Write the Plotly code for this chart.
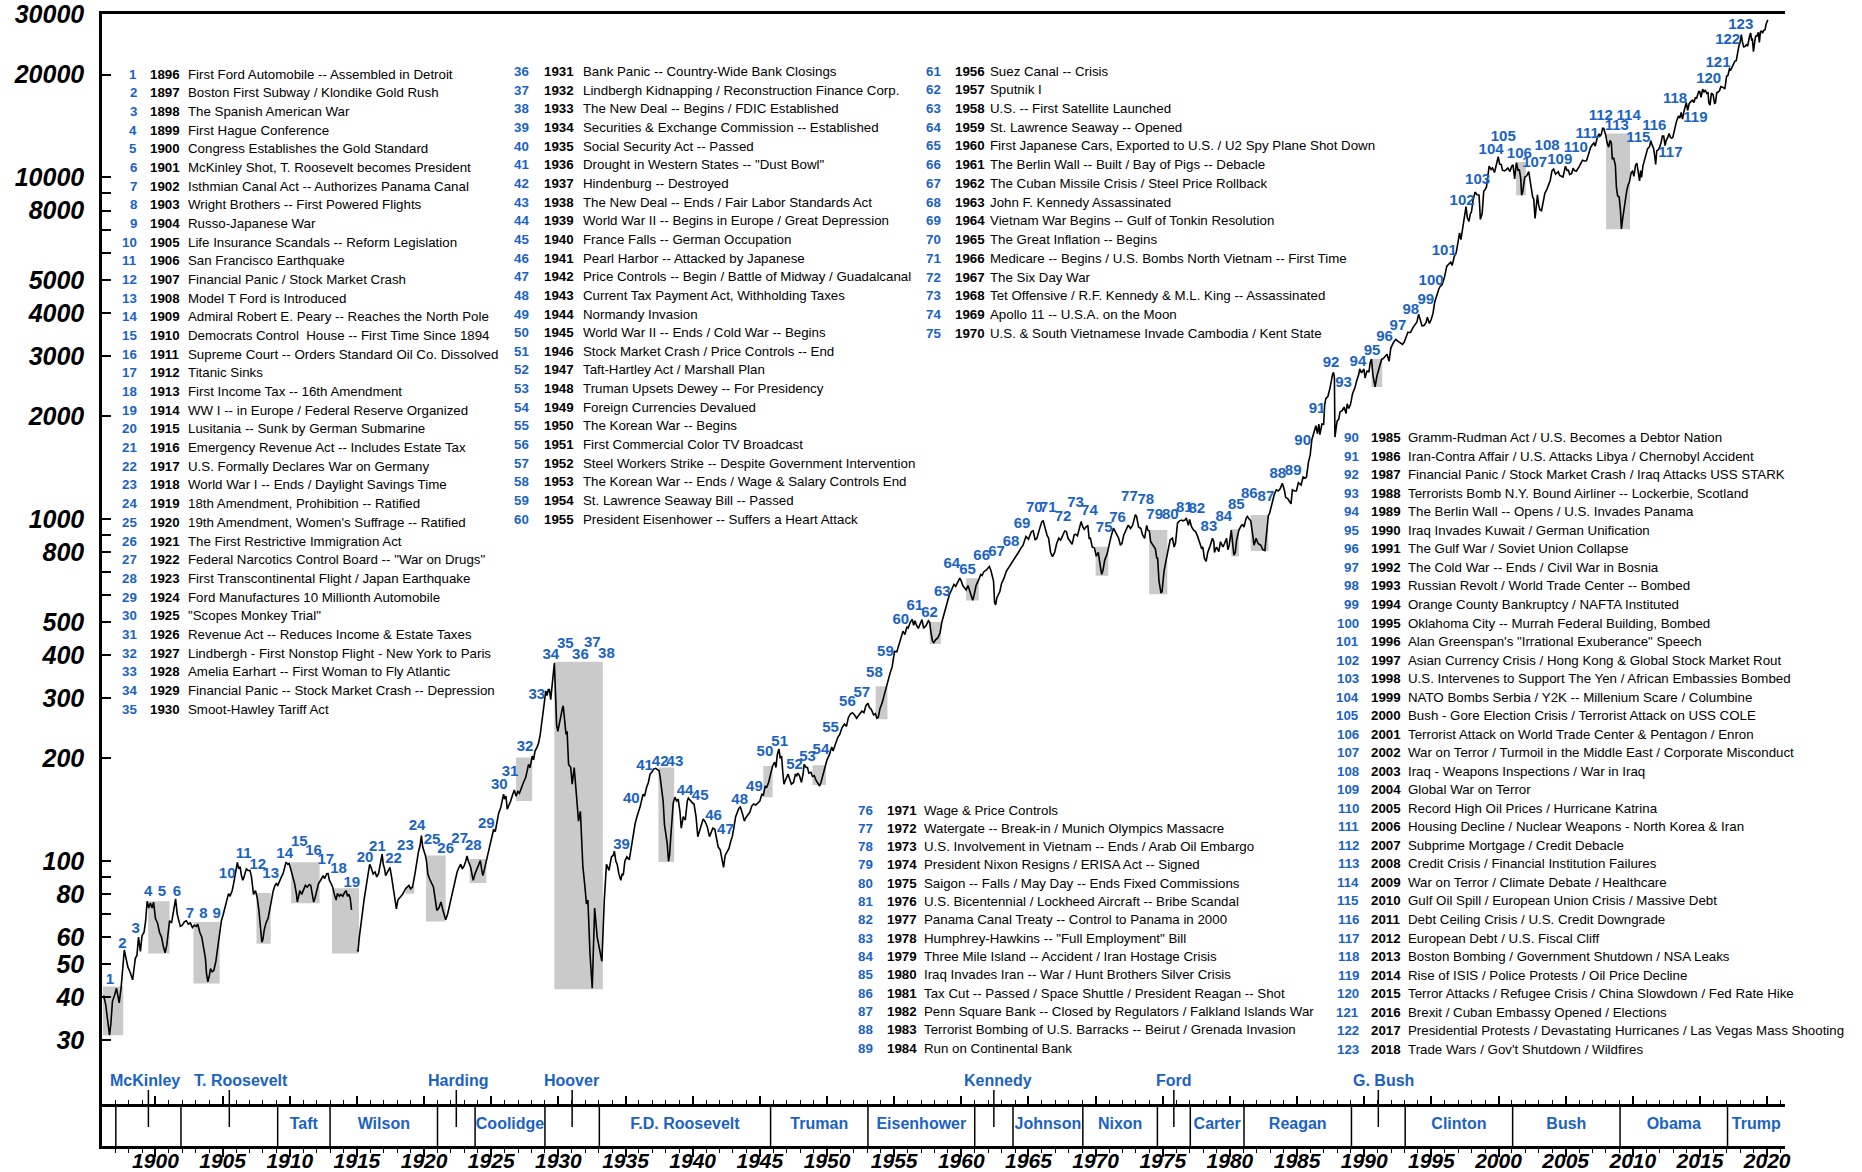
import plotly.graph_objects as go

# ------------------------------------------------------------------
# DATA
# Dow Jones Industrial Average, (decimal year, index level)
# ------------------------------------------------------------------
djia_1896_1914 = [
    (1896.14, 40.5), (1896.30, 38.0), (1896.45, 34.0), (1896.58, 31.0), (1896.68, 33.5), (1896.80, 39.0), (1896.95, 40.5),
    (1897.10, 42.5), (1897.30, 38.5), (1897.45, 43.0), (1897.68, 55.0), (1897.82, 51.0), (1897.95, 49.0),
    (1898.10, 47.5), (1898.30, 45.0), (1898.50, 52.0), (1898.62, 53.0), (1898.74, 60.0), (1898.88, 54.5),
    (1899.00, 60.5), (1899.15, 62.0), (1899.27, 67.0), (1899.38, 76.4), (1899.50, 73.0), (1899.62, 75.5), (1899.75, 73.0), (1899.86, 75.9),
    (1900.00, 68.0), (1900.15, 66.0), (1900.30, 62.0), (1900.45, 60.0), (1900.60, 56.0), (1900.72, 54.0), (1900.85, 57.0), (1900.95, 63.0),
    (1901.05, 67.0), (1901.20, 66.0), (1901.35, 72.0), (1901.50, 77.6), (1901.62, 70.0), (1901.72, 67.0), (1901.85, 64.5),
    (1902.00, 65.0), (1902.15, 66.5), (1902.30, 67.0), (1902.45, 65.5), (1902.60, 66.0), (1902.75, 64.0), (1902.90, 65.0),
    (1903.05, 64.5), (1903.15, 65.5), (1903.30, 62.0), (1903.45, 60.0), (1903.60, 56.0), (1903.72, 52.0), (1903.80, 47.0), (1903.90, 44.4),
    (1904.00, 46.0), (1904.10, 48.5), (1904.22, 47.5), (1904.35, 48.0), (1904.50, 51.0), (1904.64, 56.0), (1904.80, 62.0), (1904.91, 67.0),
    (1905.05, 70.0), (1905.23, 75.0), (1905.35, 78.0), (1905.44, 80.4), (1905.55, 79.0), (1905.71, 82.0), (1905.82, 86.0), (1905.92, 89.8),
    (1906.03, 95.0), (1906.10, 99.3), (1906.20, 95.0), (1906.30, 96.5), (1906.40, 91.0), (1906.50, 88.0), (1906.56, 89.0), (1906.68, 93.0), (1906.77, 95.0), (1906.90, 94.0),
    (1907.04, 94.0), (1907.15, 90.0), (1907.30, 80.0), (1907.45, 82.0), (1907.57, 78.5), (1907.70, 72.0), (1907.83, 62.0), (1907.92, 58.0),
    (1908.00, 59.0), (1908.10, 63.0), (1908.23, 66.0), (1908.38, 68.0), (1908.50, 71.8), (1908.65, 78.0), (1908.77, 82.0), (1908.90, 85.0),
    (1909.00, 86.0), (1909.11, 85.0), (1909.25, 88.0), (1909.38, 90.0), (1909.50, 92.0), (1909.62, 97.0), (1909.72, 99.3), (1909.85, 98.0), (1909.96, 98.5),
    (1910.10, 94.0), (1910.25, 90.0), (1910.36, 86.0), (1910.50, 80.0), (1910.56, 76.0), (1910.63, 78.0), (1910.75, 82.0), (1910.89, 80.0),
    (1911.02, 82.5), (1911.16, 85.0), (1911.30, 84.0), (1911.45, 85.5), (1911.56, 85.0), (1911.68, 79.0), (1911.78, 76.0), (1911.88, 78.0),
    (1912.00, 81.0), (1912.14, 86.0), (1912.30, 88.0), (1912.49, 90.8), (1912.60, 89.0), (1912.75, 91.9), (1912.85, 92.0), (1912.95, 88.0),
    (1913.08, 86.0), (1913.20, 84.0), (1913.32, 80.0), (1913.45, 77.0), (1913.55, 80.5), (1913.70, 79.0), (1913.80, 80.0), (1913.95, 79.0),
    (1914.08, 81.0), (1914.20, 82.0), (1914.30, 79.0), (1914.40, 80.0), (1914.50, 78.0), (1914.60, 72.0),
    (1914.80, None),   # exchange closed
]
djia_1915_1933 = [
    (1915.02, 55.0), (1915.08, 54.5), (1915.18, 60.0), (1915.30, 66.0), (1915.42, 71.8), (1915.55, 78.0), (1915.68, 84.0), (1915.80, 90.0), (1915.95, 98.0),
    (1916.05, 96.0), (1916.21, 91.8), (1916.35, 93.0), (1916.48, 90.0), (1916.61, 92.0), (1916.75, 100.0), (1916.88, 105.0), (1916.96, 98.0),
    (1917.06, 95.0), (1917.14, 90.8), (1917.30, 93.0), (1917.46, 96.0), (1917.58, 90.0), (1917.73, 82.0), (1917.85, 76.0), (1917.94, 72.6),
    (1918.05, 77.0), (1918.26, 78.5), (1918.40, 80.0), (1918.61, 83.0), (1918.75, 84.0), (1918.87, 85.0),
    (1919.00, 83.0), (1919.14, 84.0), (1919.32, 91.8), (1919.45, 100.0), (1919.59, 107.0), (1919.70, 111.0), (1919.80, 118.8), (1919.90, 110.0),
    (1920.00, 107.0), (1920.10, 104.0), (1920.18, 100.0), (1920.28, 91.8), (1920.40, 89.0), (1920.50, 87.0), (1920.60, 86.0), (1920.70, 84.0), (1920.82, 78.0), (1920.95, 71.8),
    (1921.10, 73.0), (1921.26, 76.0), (1921.40, 72.0), (1921.52, 68.5), (1921.61, 67.4), (1921.75, 70.0), (1921.93, 75.0),
    (1922.05, 79.0), (1922.20, 85.0), (1922.35, 89.0), (1922.46, 93.0), (1922.60, 96.0), (1922.73, 98.0), (1922.85, 95.0), (1922.99, 97.0),
    (1923.10, 100.0), (1923.20, 103.7), (1923.30, 100.0), (1923.47, 96.0), (1923.58, 91.0), (1923.66, 87.9), (1923.80, 92.0), (1923.93, 95.0),
    (1924.05, 97.0), (1924.19, 100.4), (1924.30, 94.0), (1924.38, 90.8), (1924.50, 95.0), (1924.62, 100.0), (1924.72, 102.7), (1924.85, 108.0), (1924.99, 114.8),
    (1925.10, 120.0), (1925.18, 124.0), (1925.30, 122.0), (1925.44, 131.0), (1925.55, 138.0), (1925.71, 143.6), (1925.82, 150.0), (1925.92, 157.0),
    (1926.00, 152.0), (1926.10, 155.0), (1926.19, 142.0), (1926.30, 145.0), (1926.45, 150.0), (1926.58, 156.0), (1926.72, 161.5), (1926.85, 155.0), (1926.98, 160.0),
    (1927.10, 158.0), (1927.25, 164.5), (1927.40, 170.0), (1927.57, 176.0), (1927.68, 185.0), (1927.78, 192.0), (1927.90, 188.0),
    (1928.05, 203.0), (1928.15, 198.0), (1928.26, 210.0), (1928.40, 215.0), (1928.53, 222.0), (1928.65, 235.0), (1928.75, 250.0), (1928.85, 269.0), (1928.95, 290.0),
    (1929.06, 315.0), (1929.15, 305.0), (1929.25, 318.0), (1929.33, 318.0), (1929.43, 297.0), (1929.55, 330.0), (1929.70, 380.0), (1929.80, 300.0), (1929.87, 250.0), (1929.96, 240.0),
    (1930.08, 255.0), (1930.18, 263.0), (1930.30, 280.0), (1930.36, 285.0), (1930.45, 265.0), (1930.57, 235.0), (1930.65, 240.0), (1930.76, 192.0), (1930.92, 188.0),
    (1931.03, 168.0), (1931.18, 188.0), (1931.37, 150.0), (1931.50, 131.0), (1931.64, 140.0), (1931.82, 97.0), (1931.98, 84.0),
    (1932.09, 75.0), (1932.20, 77.0), (1932.35, 54.0), (1932.52, 42.5), (1932.70, 73.0), (1932.89, 60.0),
    (1933.05, 56.0), (1933.24, 51.0), (1933.42, 77.0), (1933.58, 98.0), (1933.77, 94.0), (1933.95, 103.0),
]
djia_1934_1959 = [
    (1934.08, 104), (1934.17, 107), (1934.28, 100), (1934.38, 98), (1934.50, 92), (1934.65, 88), (1934.75, 92), (1934.83, 91), (1934.95, 100),
    (1935.10, 103), (1935.28, 101), (1935.40, 108), (1935.50, 115), (1935.60, 120), (1935.71, 128.5), (1935.85, 135), (1935.98, 140),
    (1936.10, 145), (1936.30, 157), (1936.42, 155), (1936.56, 164), (1936.70, 170), (1936.83, 180), (1936.95, 182),
    (1937.09, 186), (1937.25, 187), (1937.40, 185), (1937.50, 184), (1937.58, 176), (1937.68, 160), (1937.80, 150), (1937.90, 128),
    (1938.00, 121), (1938.10, 113), (1938.20, 100), (1938.28, 104), (1938.35, 115), (1938.45, 135), (1938.55, 148), (1938.68, 154), (1938.80, 150), (1938.92, 152),
    (1939.05, 140), (1939.15, 125), (1939.30, 135), (1939.45, 132), (1939.60, 150), (1939.68, 153), (1939.85, 150), (1939.99, 148),
    (1940.10, 147), (1940.25, 135), (1940.38, 118), (1940.46, 121), (1940.60, 125), (1940.78, 133), (1940.95, 130),
    (1941.09, 126), (1941.25, 118), (1941.40, 122), (1941.50, 125), (1941.65, 124), (1941.81, 115), (1941.90, 110),
    (1942.05, 108), (1942.20, 100), (1942.30, 96), (1942.42, 104), (1942.55, 106), (1942.70, 109), (1942.85, 115), (1942.95, 118),
    (1943.06, 125), (1943.20, 135), (1943.44, 143), (1943.55, 144), (1943.70, 138), (1943.85, 131), (1943.95, 134),
    (1944.10, 137), (1944.25, 139), (1944.40, 145), (1944.54, 147), (1944.70, 146), (1944.85, 148),
    (1945.00, 150), (1945.15, 157), (1945.26, 156), (1945.40, 166), (1945.50, 164), (1945.65, 170), (1945.80, 182), (1945.95, 190),
    (1946.10, 195), (1946.20, 188), (1946.30, 205), (1946.42, 213), (1946.52, 200), (1946.62, 203), (1946.72, 180), (1946.80, 168), (1946.89, 172),
    (1947.00, 176), (1947.10, 180), (1947.20, 175), (1947.35, 168), (1947.51, 170), (1947.65, 180), (1947.75, 178), (1947.83, 181), (1947.95, 178),
    (1948.10, 170), (1948.22, 180), (1948.30, 192), (1948.45, 188), (1948.55, 188), (1948.65, 181), (1948.80, 182), (1948.92, 177),
    (1949.05, 178), (1949.20, 172), (1949.35, 168), (1949.45, 166), (1949.55, 170), (1949.70, 180), (1949.86, 188),
    (1950.00, 198), (1950.18, 205), (1950.35, 216), (1950.45, 210), (1950.55, 215), (1950.70, 225), (1950.80, 230), (1950.95, 235),
    (1951.12, 246), (1951.30, 252), (1951.45, 248), (1951.59, 263), (1951.75, 270), (1951.90, 272),
    (1952.05, 268), (1952.20, 262), (1952.28, 264), (1952.45, 270), (1952.60, 275), (1952.75, 272), (1952.90, 285),
    (1953.05, 290), (1953.15, 282), (1953.30, 278), (1953.47, 268), (1953.60, 270), (1953.72, 262), (1953.82, 264), (1953.95, 280),
    (1954.10, 290), (1954.25, 305), (1954.40, 322), (1954.55, 340), (1954.70, 355), (1954.85, 370),
    (1955.03, 411), (1955.20, 410), (1955.35, 430), (1955.50, 450), (1955.66, 471), (1955.80, 460), (1955.95, 485),
    (1956.04, 481), (1956.20, 500), (1956.35, 510), (1956.45, 490), (1956.55, 505), (1956.66, 490), (1956.80, 480), (1956.95, 495),
    (1957.07, 509), (1957.20, 480), (1957.39, 490), (1957.55, 505), (1957.64, 500), (1957.75, 465), (1957.86, 440), (1957.95, 436),
    (1958.10, 445), (1958.25, 450), (1958.42, 466), (1958.55, 500), (1958.70, 525), (1958.80, 539), (1958.95, 570),
    (1959.11, 602), (1959.30, 625), (1959.45, 645), (1959.58, 637), (1959.75, 655), (1959.89, 673),
]
djia_1960_1986 = [
    (1960.00, 660), (1960.11, 640), (1960.25, 630), (1960.36, 622), (1960.50, 640), (1960.62, 620), (1960.75, 590), (1960.85, 580), (1960.95, 600),
    (1961.10, 640), (1961.30, 666), (1961.45, 690), (1961.55, 685), (1961.68, 703), (1961.85, 710),
    (1962.00, 725), (1962.09, 728), (1962.20, 710), (1962.30, 690), (1962.40, 660), (1962.48, 570), (1962.56, 562), (1962.65, 590), (1962.75, 600), (1962.87, 615),
    (1963.00, 650), (1963.18, 673), (1963.35, 705), (1963.50, 720), (1963.65, 730), (1963.80, 750), (1963.97, 769),
    (1964.10, 780), (1964.25, 800), (1964.44, 824), (1964.60, 840), (1964.81, 891),
    (1965.00, 875), (1965.22, 921), (1965.35, 925), (1965.50, 870), (1965.63, 880), (1965.80, 930),
    (1966.00, 985), (1966.10, 990), (1966.25, 940), (1966.38, 900), (1966.50, 880), (1966.65, 800), (1966.79, 778), (1966.95, 800),
    (1967.10, 850), (1967.26, 881), (1967.40, 870), (1967.55, 900), (1967.70, 925), (1967.82, 921), (1967.95, 880),
    (1968.13, 860), (1968.25, 845), (1968.40, 900), (1968.51, 905), (1968.65, 895), (1968.80, 950), (1968.92, 985),
    (1969.05, 950), (1969.15, 935), (1969.30, 951), (1969.42, 960), (1969.52, 880), (1969.61, 881), (1969.75, 830), (1969.92, 824),
    (1970.05, 780), (1970.20, 800), (1970.35, 730), (1970.45, 690), (1970.55, 710), (1970.68, 760), (1970.85, 790),
    (1971.00, 841), (1971.15, 890), (1971.33, 942), (1971.45, 920), (1971.60, 900), (1971.71, 881), (1971.85, 840), (1971.96, 850),
    (1972.10, 900), (1972.30, 940), (1972.43, 962), (1972.60, 940), (1972.75, 960), (1972.90, 1010), (1972.96, 1031),
    (1973.05, 1020), (1973.20, 950), (1973.37, 940), (1973.50, 900), (1973.65, 880), (1973.80, 960), (1973.90, 930), (1974.00, 925),
    (1974.10, 860), (1974.20, 850), (1974.30, 841), (1974.45, 820), (1974.55, 770), (1974.62, 769), (1974.72, 660), (1974.80, 620), (1974.87, 608), (1974.95, 616),
    (1975.09, 703), (1975.25, 760), (1975.41, 824), (1975.55, 870), (1975.72, 881), (1975.85, 830), (1975.95, 852),
    (1976.10, 975), (1976.25, 990), (1976.40, 995), (1976.50, 990), (1976.65, 995), (1976.75, 1010), (1976.91, 960),
    (1977.00, 1000), (1977.15, 950), (1977.29, 931), (1977.45, 920), (1977.60, 890), (1977.75, 850), (1977.90, 820), (1977.98, 831),
    (1978.10, 770), (1978.23, 753), (1978.35, 800), (1978.54, 840), (1978.70, 880), (1978.80, 860), (1978.85, 800),
    (1979.00, 830), (1979.17, 805), (1979.30, 860), (1979.48, 830), (1979.60, 850), (1979.75, 880), (1979.85, 815), (1979.95, 840),
    (1980.10, 930), (1980.20, 850), (1980.30, 785), (1980.40, 800), (1980.50, 870), (1980.67, 930), (1980.85, 960), (1980.95, 964),
    (1981.05, 950), (1981.20, 1005), (1981.30, 1020), (1981.45, 1000), (1981.55, 990), (1981.70, 900), (1981.80, 840), (1981.95, 880),
    (1982.10, 850), (1982.30, 840), (1982.45, 815), (1982.60, 810), (1982.72, 900), (1982.86, 1025), (1982.95, 1040),
    (1983.10, 1100), (1983.30, 1180), (1983.45, 1220), (1983.60, 1210), (1983.75, 1230), (1983.90, 1275),
    (1984.05, 1220), (1984.15, 1160), (1984.30, 1150), (1984.45, 1130), (1984.55, 1110), (1984.65, 1220), (1984.80, 1210), (1984.95, 1210),
    (1985.10, 1280), (1985.30, 1260), (1985.45, 1330), (1985.60, 1320), (1985.70, 1330), (1985.85, 1470), (1985.98, 1546),
    (1986.10, 1710), (1986.25, 1800), (1986.40, 1880), (1986.52, 1780), (1986.62, 1900), (1986.70, 1770), (1986.85, 1900), (1986.98, 1896),
]
djia_1987_2020 = [
    (1987.05, 2150), (1987.14, 2254), (1987.30, 2290), (1987.45, 2420), (1987.53, 2520), (1987.65, 2660), (1987.72, 2692), (1987.78, 2600), (1987.82, 1740), (1987.90, 1830), (1987.98, 1939),
    (1988.10, 1960), (1988.20, 2061), (1988.35, 2080), (1988.50, 2130), (1988.65, 2040), (1988.73, 2178), (1988.85, 2110), (1988.98, 2170),
    (1989.13, 2330), (1989.30, 2420), (1989.45, 2550), (1989.60, 2660), (1989.66, 2754), (1989.80, 2680), (1989.98, 2753),
    (1990.06, 2590), (1990.20, 2710), (1990.35, 2700), (1990.45, 2880), (1990.54, 2944), (1990.65, 2640), (1990.75, 2450), (1990.81, 2440), (1990.95, 2630),
    (1991.10, 2740), (1991.30, 2940), (1991.40, 2950), (1991.55, 3000), (1991.70, 3040), (1991.85, 2900), (1991.98, 3169),
    (1992.19, 3296), (1992.35, 3360), (1992.50, 3320), (1992.72, 3270), (1992.85, 3250), (1992.98, 3301),
    (1993.25, 3525), (1993.45, 3520), (1993.65, 3650), (1993.92, 3770),
    (1994.05, 3978), (1994.18, 3830), (1994.30, 3680), (1994.45, 3688), (1994.60, 3760), (1994.70, 3900), (1994.85, 3740), (1994.98, 3834),
    (1995.12, 4000), (1995.25, 4321), (1995.40, 4550), (1995.55, 4710), (1995.65, 4800), (1995.80, 4850), (1995.98, 5117),
    (1996.15, 5500), (1996.30, 5580), (1996.44, 5650), (1996.55, 5530), (1996.71, 5880), (1996.85, 6030), (1996.98, 6448),
    (1997.10, 6880), (1997.20, 6580), (1997.30, 7010), (1997.45, 7670), (1997.58, 8220), (1997.68, 7620), (1997.80, 7440), (1997.90, 7820), (1997.98, 7908),
    (1998.10, 8550), (1998.25, 9060), (1998.40, 8900), (1998.55, 8880), (1998.65, 7540), (1998.78, 7840), (1998.90, 9120), (1998.98, 9181),
    (1999.10, 9360), (1999.30, 10790), (1999.45, 10560), (1999.55, 10660), (1999.70, 10340), (1999.80, 10730), (1999.98, 11497),
    (2000.08, 10940), (2000.20, 10920), (2000.30, 10500), (2000.45, 10450), (2000.55, 10520), (2000.70, 10650), (2000.85, 10410), (2000.98, 10787),
    (2001.08, 10880), (2001.20, 9900), (2001.33, 11050), (2001.45, 10500), (2001.55, 10520), (2001.65, 9950), (2001.72, 8870), (2001.80, 9080), (2001.95, 10021),
    (2002.10, 10110), (2002.25, 10400), (2002.35, 9920), (2002.45, 9240), (2002.55, 8740), (2002.62, 8660), (2002.72, 7590), (2002.80, 8400), (2002.90, 8900), (2002.98, 8340),
    (2003.08, 8050), (2003.20, 7990), (2003.30, 8480), (2003.45, 8990), (2003.60, 9230), (2003.70, 9420), (2003.85, 9800), (2003.98, 10454),
    (2004.10, 10580), (2004.25, 10220), (2004.45, 10400), (2004.55, 10140), (2004.70, 10080), (2004.80, 10030), (2004.98, 10783),
    (2005.10, 10490), (2005.20, 10500), (2005.30, 10190), (2005.45, 10270), (2005.55, 10640), (2005.65, 10480), (2005.80, 10440), (2005.98, 10718),
    (2006.10, 10990), (2006.25, 11230), (2006.40, 11170), (2006.55, 11190), (2006.70, 11680), (2006.85, 12220), (2006.98, 12463),
    (2007.10, 12620), (2007.20, 12350), (2007.35, 13060), (2007.48, 13410), (2007.55, 13210), (2007.65, 13360), (2007.75, 13930), (2007.83, 13930), (2007.98, 13300),
    (2008.08, 12650), (2008.20, 12260), (2008.30, 12820), (2008.40, 12640), (2008.47, 11350), (2008.58, 11380), (2008.70, 10850), (2008.78, 9330), (2008.87, 8830), (2008.98, 8776),
    (2009.08, 8000), (2009.15, 7063), (2009.25, 7610), (2009.35, 8170), (2009.45, 8450), (2009.55, 9170), (2009.65, 9500), (2009.75, 9710), (2009.88, 10340), (2009.98, 10428),
    (2010.08, 10070), (2010.20, 10860), (2010.30, 11010), (2010.40, 10140), (2010.50, 9770), (2010.58, 10470), (2010.65, 10010), (2010.75, 10790), (2010.85, 11120), (2010.98, 11578),
    (2011.10, 12140), (2011.25, 12320), (2011.34, 12810), (2011.45, 12410), (2011.55, 12140), (2011.62, 11610), (2011.70, 10910), (2011.78, 11960), (2011.90, 12050), (2011.98, 12218),
    (2012.10, 12630), (2012.20, 13210), (2012.30, 13210), (2012.40, 12390), (2012.50, 12880), (2012.60, 13090), (2012.70, 13440), (2012.80, 13100), (2012.90, 13030), (2012.98, 13104),
    (2013.10, 13860), (2013.25, 14580), (2013.40, 15120), (2013.50, 14910), (2013.60, 15500), (2013.70, 14810), (2013.80, 15550), (2013.90, 16090), (2013.98, 16577),
    (2014.08, 15700), (2014.20, 16460), (2014.35, 16720), (2014.45, 16830), (2014.55, 16560), (2014.65, 17100), (2014.75, 17040), (2014.90, 17830), (2014.98, 17823),
    (2015.08, 17160), (2015.20, 18130), (2015.30, 17780), (2015.40, 18010), (2015.50, 17620), (2015.60, 17690), (2015.66, 16530), (2015.75, 16280), (2015.85, 17660), (2015.98, 17425),
    (2016.08, 16470), (2016.15, 16520), (2016.25, 17690), (2016.35, 17770), (2016.45, 17930), (2016.55, 18430), (2016.65, 18400), (2016.75, 18310), (2016.85, 18140), (2016.92, 19120), (2016.98, 19763),
    (2017.08, 19860), (2017.20, 20810), (2017.30, 20660), (2017.40, 21010), (2017.50, 21350), (2017.60, 21890), (2017.70, 21950), (2017.80, 23380), (2017.90, 24270), (2017.98, 24719),
    (2018.08, 26150), (2018.15, 25030), (2018.25, 24100), (2018.35, 24160), (2018.45, 24420), (2018.55, 24270), (2018.62, 25410), (2018.70, 25960), (2018.77, 26460), (2018.85, 25120), (2018.90, 25540), (2018.98, 23327),
    (2019.08, 25000), (2019.15, 25920), (2019.25, 25930), (2019.35, 26590), (2019.42, 24820), (2019.50, 26600), (2019.58, 26860), (2019.65, 26400), (2019.75, 26920), (2019.85, 27050), (2019.92, 28050), (2019.98, 28538),
    (2020.05, 28900),
]

# shaded crisis boxes
crash_start = [1896.08, 1899.46, 1902.83, 1907.52, 1910.10, 1913.15, 1918.61, 1920.15, 1923.39, 1926.85, 1929.70, 1937.45,
               1945.26, 1948.92, 1953.62, 1957.64, 1960.36, 1970.00, 1973.99, 1980.10, 1981.55, 1990.54, 2001.31, 2008.01]
crash_end = [1897.60, 1901.05, 1904.78, 1908.58, 1912.22, 1915.15, 1919.27, 1921.61, 1924.64, 1928.05, 1933.31, 1938.62,
             1945.95, 1949.93, 1954.50, 1958.48, 1961.30, 1970.95, 1975.34, 1980.67, 1982.86, 1991.34, 2002.03, 2009.79]
crash_low = [31, 53.7, 43.9, 57.4, 75.4, 53.7, 80.4, 66.7, 86.3, 150, 42.2, 99.5,
             154, 167, 260, 432, 579, 684, 604, 778, 808, 2438, 8865, 7056]
crash_high = [43, 76.4, 66.4, 80.7, 99.3, 83.4, 84.3, 103.9, 101.6, 201, 383, 188,
              190, 191, 325, 501, 673, 832, 931, 935, 1030, 2944, 11090, 13440]

# events: (year, description)
events = [
    (1896, "First Ford Automobile -- Assembled in Detroit"),
    (1897, "Boston First Subway / Klondike Gold Rush"),
    (1898, "The Spanish American War"),
    (1899, "First Hague Conference"),
    (1900, "Congress Establishes the Gold Standard"),
    (1901, "McKinley Shot, T. Roosevelt becomes President"),
    (1902, "Isthmian Canal Act -- Authorizes Panama Canal"),
    (1903, "Wright Brothers -- First Powered Flights"),
    (1904, "Russo-Japanese War"),
    (1905, "Life Insurance Scandals -- Reform Legislation"),
    (1906, "San Francisco Earthquake"),
    (1907, "Financial Panic / Stock Market Crash"),
    (1908, "Model T Ford is Introduced"),
    (1909, "Admiral Robert E. Peary -- Reaches the North Pole"),
    (1910, "Democrats Control  House -- First Time Since 1894"),
    (1911, "Supreme Court -- Orders Standard Oil Co. Dissolved"),
    (1912, "Titanic Sinks"),
    (1913, "First Income Tax -- 16th Amendment"),
    (1914, "WW I -- in Europe / Federal Reserve Organized"),
    (1915, "Lusitania -- Sunk by German Submarine"),
    (1916, "Emergency Revenue Act -- Includes Estate Tax"),
    (1917, "U.S. Formally Declares War on Germany"),
    (1918, "World War I -- Ends / Daylight Savings Time"),
    (1919, "18th Amendment, Prohibition -- Ratified"),
    (1920, "19th Amendment, Women's Suffrage -- Ratified"),
    (1921, "The First Restrictive Immigration Act"),
    (1922, "Federal Narcotics Control Board -- \"War on Drugs\""),
    (1923, "First Transcontinental Flight / Japan Earthquake"),
    (1924, "Ford Manufactures 10 Millionth Automobile"),
    (1925, "\"Scopes Monkey Trial\""),
    (1926, "Revenue Act -- Reduces Income &amp; Estate Taxes"),
    (1927, "Lindbergh - First Nonstop Flight - New York to Paris"),
    (1928, "Amelia Earhart -- First Woman to Fly Atlantic"),
    (1929, "Financial Panic -- Stock Market Crash -- Depression"),
    (1930, "Smoot-Hawley Tariff Act"),
    (1931, "Bank Panic -- Country-Wide Bank Closings"),
    (1932, "Lindbergh Kidnapping / Reconstruction Finance Corp."),
    (1933, "The New Deal -- Begins / FDIC Established"),
    (1934, "Securities &amp; Exchange Commission -- Established"),
    (1935, "Social Security Act -- Passed"),
    (1936, "Drought in Western States -- \"Dust Bowl\""),
    (1937, "Hindenburg -- Destroyed"),
    (1938, "The New Deal -- Ends / Fair Labor Standards Act"),
    (1939, "World War II -- Begins in Europe / Great Depression"),
    (1940, "France Falls -- German Occupation"),
    (1941, "Pearl Harbor -- Attacked by Japanese"),
    (1942, "Price Controls -- Begin / Battle of Midway / Guadalcanal"),
    (1943, "Current Tax Payment Act, Withholding Taxes"),
    (1944, "Normandy Invasion"),
    (1945, "World War II -- Ends / Cold War -- Begins"),
    (1946, "Stock Market Crash / Price Controls -- End"),
    (1947, "Taft-Hartley Act / Marshall Plan"),
    (1948, "Truman Upsets Dewey -- For Presidency"),
    (1949, "Foreign Currencies Devalued"),
    (1950, "The Korean War -- Begins"),
    (1951, "First Commercial Color TV Broadcast"),
    (1952, "Steel Workers Strike -- Despite Government Intervention"),
    (1953, "The Korean War -- Ends / Wage &amp; Salary Controls End"),
    (1954, "St. Lawrence Seaway Bill -- Passed"),
    (1955, "President Eisenhower -- Suffers a Heart Attack"),
    (1956, "Suez Canal -- Crisis"),
    (1957, "Sputnik I"),
    (1958, "U.S. -- First Satellite Launched"),
    (1959, "St. Lawrence Seaway -- Opened"),
    (1960, "First Japanese Cars, Exported to U.S. / U2 Spy Plane Shot Down"),
    (1961, "The Berlin Wall -- Built / Bay of Pigs -- Debacle"),
    (1962, "The Cuban Missile Crisis / Steel Price Rollback"),
    (1963, "John F. Kennedy Assassinated"),
    (1964, "Vietnam War Begins -- Gulf of Tonkin Resolution"),
    (1965, "The Great Inflation -- Begins"),
    (1966, "Medicare -- Begins / U.S. Bombs North Vietnam -- First Time"),
    (1967, "The Six Day War"),
    (1968, "Tet Offensive / R.F. Kennedy &amp; M.L. King -- Assassinated"),
    (1969, "Apollo 11 -- U.S.A. on the Moon"),
    (1970, "U.S. &amp; South Vietnamese Invade Cambodia / Kent State"),
    (1971, "Wage &amp; Price Controls"),
    (1972, "Watergate -- Break-in / Munich Olympics Massacre"),
    (1973, "U.S. Involvement in Vietnam -- Ends / Arab Oil Embargo"),
    (1974, "President Nixon Resigns / ERISA Act -- Signed"),
    (1975, "Saigon -- Falls / May Day -- Ends Fixed Commissions"),
    (1976, "U.S. Bicentennial / Lockheed Aircraft -- Bribe Scandal"),
    (1977, "Panama Canal Treaty -- Control to Panama in 2000"),
    (1978, "Humphrey-Hawkins -- \"Full Employment\" Bill"),
    (1979, "Three Mile Island -- Accident / Iran Hostage Crisis"),
    (1980, "Iraq Invades Iran -- War / Hunt Brothers Silver Crisis"),
    (1981, "Tax Cut -- Passed / Space Shuttle / President Reagan -- Shot"),
    (1982, "Penn Square Bank -- Closed by Regulators / Falkland Islands War"),
    (1983, "Terrorist Bombing of U.S. Barracks -- Beirut / Grenada Invasion"),
    (1984, "Run on Continental Bank"),
    (1985, "Gramm-Rudman Act / U.S. Becomes a Debtor Nation"),
    (1986, "Iran-Contra Affair / U.S. Attacks Libya / Chernobyl Accident"),
    (1987, "Financial Panic / Stock Market Crash / Iraq Attacks USS STARK"),
    (1988, "Terrorists Bomb N.Y. Bound Airliner -- Lockerbie, Scotland"),
    (1989, "The Berlin Wall -- Opens / U.S. Invades Panama"),
    (1990, "Iraq Invades Kuwait / German Unification"),
    (1991, "The Gulf War / Soviet Union Collapse"),
    (1992, "The Cold War -- Ends / Civil War in Bosnia"),
    (1993, "Russian Revolt / World Trade Center -- Bombed"),
    (1994, "Orange County Bankruptcy / NAFTA Instituted"),
    (1995, "Oklahoma City -- Murrah Federal Building, Bombed"),
    (1996, "Alan Greenspan's \"Irrational Exuberance\" Speech"),
    (1997, "Asian Currency Crisis / Hong Kong &amp; Global Stock Market Rout"),
    (1998, "U.S. Intervenes to Support The Yen / African Embassies Bombed"),
    (1999, "NATO Bombs Serbia / Y2K -- Millenium Scare / Columbine"),
    (2000, "Bush - Gore Election Crisis / Terrorist Attack on USS COLE"),
    (2001, "Terrorist Attack on World Trade Center &amp; Pentagon / Enron"),
    (2002, "War on Terror / Turmoil in the Middle East / Corporate Misconduct"),
    (2003, "Iraq - Weapons Inspections / War in Iraq"),
    (2004, "Global War on Terror"),
    (2005, "Record High Oil Prices / Hurricane Katrina"),
    (2006, "Housing Decline / Nuclear Weapons - North Korea &amp; Iran"),
    (2007, "Subprime Mortgage / Credit Debacle"),
    (2008, "Credit Crisis / Financial Institution Failures"),
    (2009, "War on Terror / Climate Debate / Healthcare"),
    (2010, "Gulf Oil Spill / European Union Crisis / Massive Debt"),
    (2011, "Debt Ceiling Crisis / U.S. Credit Downgrade"),
    (2012, "European Debt / U.S. Fiscal Cliff"),
    (2013, "Boston Bombing / Government Shutdown / NSA Leaks"),
    (2014, "Rise of ISIS / Police Protests / Oil Price Decline"),
    (2015, "Terror Attacks / Refugee Crisis / China Slowdown / Fed Rate Hike"),
    (2016, "Brexit / Cuban Embassy Opened / Elections"),
    (2017, "Presidential Protests / Devastating Hurricanes / Las Vegas Mass Shooting"),
    (2018, "Trade Wars / Gov't Shutdown / Wildfires"),
]

# where each event number sits on the chart (year, index level)
label_x = [1896.61, 1897.54, 1898.53, 1899.46, 1900.49, 1901.59, 1902.57, 1903.58, 1904.56, 1905.34,
           1906.56, 1907.62, 1908.58, 1909.62, 1910.71, 1911.77, 1912.68, 1913.63, 1914.62, 1915.60,
           1916.53, 1917.73, 1918.61, 1919.48, 1920.60, 1921.61, 1922.65, 1923.66, 1924.64, 1925.60,
           1926.40, 1927.52, 1928.40, 1929.43, 1930.52, 1931.64, 1932.52, 1933.58, 1934.70, 1935.43,
           1936.42, 1937.58, 1938.68, 1939.43, 1940.56, 1941.56, 1942.44, 1943.50, 1944.60, 1945.38,
           1946.48, 1947.58, 1948.55, 1949.55, 1950.27, 1951.52, 1952.59, 1953.53, 1954.35, 1955.50,
           1956.54, 1957.64, 1958.58, 1959.30, 1960.46, 1961.52, 1962.62, 1963.71, 1964.53, 1965.44,
           1966.47, 1967.57, 1968.51, 1969.54, 1970.64, 1971.64, 1972.52, 1973.74, 1974.40, 1975.56,
           1976.60, 1977.54, 1978.44, 1979.54, 1980.48, 1981.45, 1982.68, 1983.57, 1984.71, 1985.42,
           1986.49, 1987.53, 1988.46, 1989.53, 1990.59, 1991.52, 1992.51, 1993.47, 1994.58, 1994.98,
           1995.96, 1997.29, 1998.44, 1999.45, 2000.35, 2001.55, 2002.69, 2003.62, 2004.56, 2005.75,
           2006.60, 2007.61, 2008.81, 2009.69, 2010.41, 2011.60, 2012.80, 2013.14, 2014.66, 2015.65,
           2016.34, 2017.06, 2018.04]
label_y = [44.9, 57.1, 63.1, 80.9, 80.9, 80.9, 70, 70, 70, 91.4,
           105, 97.6, 91.8, 105, 114, 106.7, 100.4, 94.6, 86.5, 102,
           109.8, 101.1, 110.3, 126.2, 114.9, 108.6, 115.7, 110.3, 128, 167.3,
           182.6, 216, 305, 400, 432, 400, 435, 402, 111.6, 152,
           190, 195, 195, 160.7, 155.4, 135, 122.9, 151.3, 164.4, 208.8,
           223.3, 191, 201, 211, 244.8, 291, 309, 354, 408.7, 506.6,
           556.5, 532, 611, 739.5, 708.6, 778, 799.5, 855, 967, 1076.5,
           1076.5, 1013.7, 1113.5, 1052.9, 941.5, 1006.8, 1156.9, 1138.8, 1025, 1025,
           1081, 1072, 945.6, 1011, 1096, 1185.6, 1161, 1351, 1384, 1689,
           2094, 2863, 2503, 2882, 3097, 3409, 3670, 4096, 4379, 4986,
           6099, 8533, 9825, 12015, 13140, 11722, 10986, 12344, 11233, 12206,
           13414, 15099, 14113, 15099, 13053, 14113, 11803, 16886, 14860, 19314,
           21600, 25144, 27931]

# presidents timeline
pres_names = ["McKinley", "T. Roosevelt", "Taft", "Wilson", "Harding", "Coolidge", "Hoover",
              "F.D. Roosevelt", "Truman", "Eisenhower", "Kennedy", "Johnson", "Nixon", "Ford",
              "Carter", "Reagan", "G. Bush", "Clinton", "Bush", "Obama", "Trump"]
pres_start = [1897.05, 1901.90, 1909.10, 1913.00, 1921.00, 1923.80, 1929.00, 1933.05, 1945.80, 1953.05,
              1961.00, 1963.85, 1969.05, 1974.60, 1977.05, 1981.05, 1989.05, 1993.05, 2001.05, 2009.05, 2017.05]
pres_end = pres_start[1:] + [2021.33]
pres_above = [True, True, False, False, True, False, True, False, False, False,
              True, False, False, True, False, False, True, False, False, False, False]
pres_label_x = [1899.2, 1906.4, None, None, 1922.56, None, 1931.0, None, None, None,
                1962.7, None, None, 1975.8, None, None, 1991.43, None, None, None, None]

y_tick_vals = [30, 40, 50, 60, 70, 80, 90, 100, 200, 300, 400, 500, 600, 700, 800, 900,
               1000, 2000, 3000, 4000, 5000, 6000, 7000, 8000, 9000, 10000, 20000, 30000]
y_tick_text = ["30", "40", "50", "60", "", "80", "", "100", "200", "300", "400", "500", "", "", "800", "",
               "1000", "2000", "3000", "4000", "5000", "", "", "8000", "", "10000", "20000", "30000"]

# ------------------------------------------------------------------
# STYLE / LAYOUT
# ------------------------------------------------------------------
BLUE = "#1a62c4"
GRAY = "#cacaca"
FONT = "Liberation Sans, Arial, Helvetica, sans-serif"

W, H = 1862, 1172
PL, PR, PT, PB = 102, 1785, 14, 1146
BAND_TOP = 1104
X_RANGE = [1896.02, 2021.33]
Y_RANGE_LOG = [1.290, 4.478]


def paper_x(p):
    return (p - PL) / (PR - PL)


def paper_y(p):
    return (PB - p) / (PB - PT)


series = djia_1896_1914 + djia_1915_1933 + djia_1934_1959 + djia_1960_1986 + djia_1987_2020
dates = [p[0] for p in series]
values = [p[1] for p in series]

fig = go.Figure()

# crisis boxes
bx, by = [], []
for x0, x1, lo, hi in zip(crash_start, crash_end, crash_low, crash_high):
    bx += [x0, x1, x1, x0, x0, None]
    by += [lo, lo, hi, hi, lo, None]
fig.add_trace(go.Scatter(x=bx, y=by, mode="lines", fill="toself", fillcolor=GRAY,
                         line=dict(width=0, color=GRAY), hoverinfo="skip"))

# DJIA line
fig.add_trace(go.Scatter(x=dates, y=values, mode="lines",
                         line=dict(color="black", width=1.6), connectgaps=False, hoverinfo="skip"))

# event numbers on the chart
fig.add_trace(go.Scatter(x=label_x, y=label_y, mode="text",
                         text=[str(i + 1) for i in range(len(events))],
                         textfont=dict(family=FONT, size=15, color=BLUE, weight="bold"),
                         cliponaxis=False, hoverinfo="skip"))

# presidents inside band
in_names, in_x = [], []
for n, s, e, a in zip(pres_names, pres_start, pres_end, pres_above):
    if not a:
        in_names.append(n)
        in_x.append((s + e) / 2)
fig.add_trace(go.Scatter(x=in_x, y=[0.5] * len(in_x), mode="text", text=in_names,
                         textfont=dict(family=FONT, size=16, color=BLUE, weight="bold"),
                         xaxis="x2", yaxis="y2", cliponaxis=False, hoverinfo="skip"))

annotations = []
shapes = []

# presidents above band + pointer lines
for n, s, e, a, lx in zip(pres_names, pres_start, pres_end, pres_above, pres_label_x):
    if a:
        annotations.append(dict(x=lx, y=paper_y(1080.5), xref="x", yref="paper", text=n,
                                showarrow=False, xanchor="center", yanchor="middle",
                                font=dict(family=FONT, size=16, color=BLUE, weight="bold")))
        mid = (s + e) / 2
        shapes.append(dict(type="line", xref="x", yref="paper", x0=mid, x1=mid,
                           y0=paper_y(1090), y1=paper_y(1127), line=dict(color="black", width=1.5)))
# term dividers
for s in pres_start:
    shapes.append(dict(type="line", xref="x", yref="paper", x0=s, x1=s,
                       y0=paper_y(BAND_TOP), y1=0, line=dict(color="black", width=1.5)))

# event list columns: (first, last, number right edge, year left, text left, first row y, row step)
columns = [
    (1, 35, 139, 148, 186, 74.0, 18.68),
    (36, 60, 531, 542, 581, 71.7, 18.64),
    (61, 75, 943, 953, 988, 71.0, 18.74),
    (76, 89, 875, 885, 922, 810.0, 18.33),
    (90, 123, 1361, 1369, 1406, 437.7, 18.53),
]
for first, last, nx, yx, tx, y0, dy in columns:
    for k, idx in enumerate(range(first, last + 1)):
        yr, desc = events[idx - 1]
        yy = paper_y(y0 + k * dy)
        annotations.append(dict(x=paper_x(nx), y=yy, xref="paper", yref="paper", text=str(idx),
                                showarrow=False, xanchor="right", yanchor="middle",
                                font=dict(family=FONT, size=13.3, color=BLUE, weight="bold")))
        annotations.append(dict(x=paper_x(yx), y=yy, xref="paper", yref="paper", text=str(yr),
                                showarrow=False, xanchor="left", yanchor="middle",
                                font=dict(family=FONT, size=13.3, color="black", weight="bold")))
        annotations.append(dict(x=paper_x(tx), y=yy, xref="paper", yref="paper", text=desc,
                                showarrow=False, xanchor="left", yanchor="middle",
                                font=dict(family=FONT, size=13.3, color="black")))

fig.update_layout(
    width=W, height=H,
    margin=dict(l=PL, r=W - PR, t=PT, b=H - PB, autoexpand=False),
    paper_bgcolor="white", plot_bgcolor="white",
    showlegend=False, hovermode=False,
    annotations=annotations, shapes=shapes,
    xaxis=dict(domain=[0, 1], range=X_RANGE, anchor="y", showline=True, linewidth=3, linecolor="black",
               mirror=True, ticks="inside", tick0=1900, dtick=5, ticklen=8, tickwidth=1.5, tickcolor="black",
               showticklabels=False, showgrid=False, zeroline=False,
               minor=dict(ticks="inside", tick0=1900, dtick=1, ticklen=4, tickwidth=1.2,
                          tickcolor="black", showgrid=False)),
    yaxis=dict(domain=[paper_y(BAND_TOP), 1], type="log", range=Y_RANGE_LOG, anchor="x",
               showline=True, linewidth=2.5, linecolor="black", ticks="inside",
               tickmode="array", tickvals=y_tick_vals, ticktext=y_tick_text,
               ticklen=9, tickwidth=1.5, tickcolor="black", ticklabelstandoff=10,
               tickfont=dict(family=FONT, size=25, color="black", weight="bold", style="italic"),
               showgrid=False, zeroline=False),
    xaxis2=dict(domain=[0, 1], range=X_RANGE, anchor="y2", showline=True, linewidth=3, linecolor="black",
                ticks="outside", tick0=1900, dtick=5, ticklen=8, tickwidth=1.5, tickcolor="black",
                ticklabelstandoff=-14,
                tickfont=dict(family=FONT, size=21, color="black", weight="bold", style="italic"),
                showgrid=False, zeroline=False,
                minor=dict(ticks="outside", tick0=1900, dtick=1, ticklen=4, tickwidth=1.2,
                           tickcolor="black", showgrid=False)),
    yaxis2=dict(domain=[0, paper_y(BAND_TOP)], range=[0, 1], anchor="x2", showline=True, linewidth=2.5,
                linecolor="black", ticks="", showticklabels=False, showgrid=False, zeroline=False),
)

# the page has a default 8px body margin; remove it so the figure fills the window exactly
fig.write_html("out.html",
               config={"displayModeBar": False},
               post_script="document.body.style.margin='0px';document.body.style.overflow='hidden';")
